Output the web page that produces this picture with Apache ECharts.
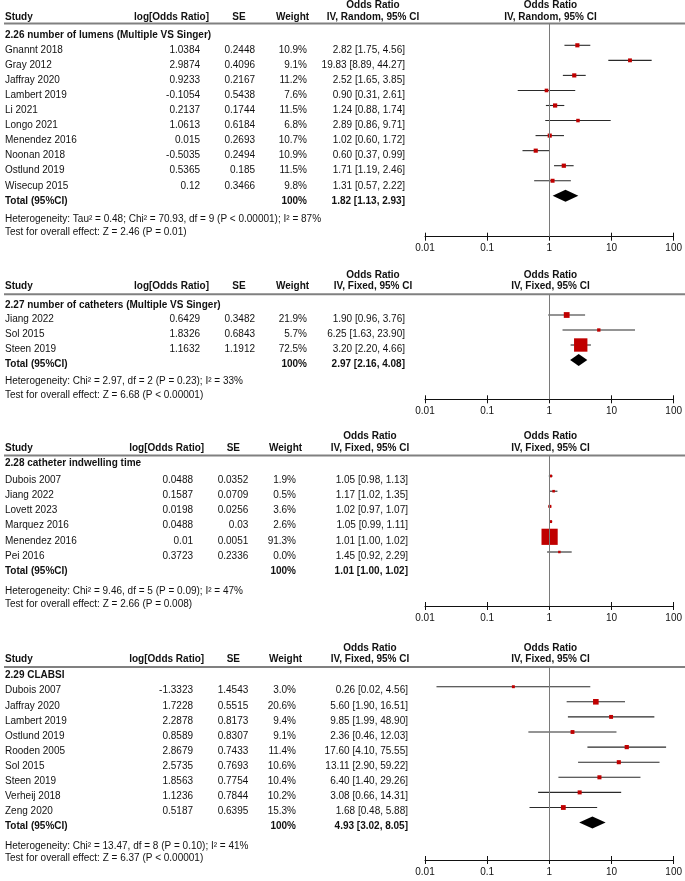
<!DOCTYPE html>
<html><head><meta charset="utf-8">
<script src="https://cdn.jsdelivr.net/npm/echarts@6/dist/echarts.min.js"></script>
<style>html,body{margin:0;padding:0;background:#fff}#chart{width:685px;height:881px}</style>
</head><body><div id="chart"></div>
<script>
// ---------------- DATA ----------------
const tickValues = [0.01, 0.1, 1, 10, 100];
const tickLabels = ['0.01', '0.1', '1', '10', '100'];
const colHeaders = ['Study', 'log[Odds Ratio]', 'SE', 'Weight', 'Odds Ratio'];
const totalLabel = 'Total (95%CI)';
const totalWeight = '100%';

const p1Title = '2.26 number of lumens (Multiple VS Singer)';
const p1Method = 'IV, Random, 95% CI';
const p1Studies = ['Gnannt 2018', 'Gray 2012', 'Jaffray 2020', 'Lambert 2019', 'Li 2021', 'Longo 2021', 'Menendez 2016', 'Noonan 2018', 'Ostlund 2019', 'Wisecup 2015'];
const p1LogOR = [1.0384, 2.9874, 0.9233, -0.1054, 0.2137, 1.0613, 0.015, -0.5035, 0.5365, 0.12];
const p1SE = [0.2448, 0.4096, 0.2167, 0.5438, 0.1744, 0.6184, 0.2693, 0.2494, 0.185, 0.3466];
const p1Weight = [10.9, 9.1, 11.2, 7.6, 11.5, 6.8, 10.7, 10.9, 11.5, 9.8];
const p1OR = [2.82, 19.83, 2.52, 0.90, 1.24, 2.89, 1.02, 0.60, 1.71, 1.31];
const p1Lower = [1.75, 8.89, 1.65, 0.31, 0.88, 0.86, 0.60, 0.37, 1.19, 0.57];
const p1Upper = [4.56, 44.27, 3.85, 2.61, 1.74, 9.71, 1.72, 0.99, 2.46, 2.22];
const p1Total = [1.82, 1.13, 2.93];
const p1Het = 'Heterogeneity: Tau² = 0.48; Chi² = 70.93, df = 9 (P < 0.00001); I² = 87%';
const p1Test = 'Test for overall effect: Z = 2.46 (P = 0.01)';

const p2Title = '2.27 number of catheters (Multiple VS Singer)';
const p2Method = 'IV, Fixed, 95% CI';
const p2Studies = ['Jiang 2022', 'Sol 2015', 'Steen 2019'];
const p2LogOR = [0.6429, 1.8326, 1.1632];
const p2SE = [0.3482, 0.6843, 1.1912];
const p2Weight = [21.9, 5.7, 72.5];
const p2OR = [1.90, 6.25, 3.20];
const p2Lower = [0.96, 1.63, 2.20];
const p2Upper = [3.76, 23.90, 4.66];
const p2Total = [2.97, 2.16, 4.08];
const p2Het = 'Heterogeneity: Chi² = 2.97, df = 2 (P = 0.23); I² = 33%';
const p2Test = 'Test for overall effect: Z = 6.68 (P < 0.00001)';

const p3Title = '2.28 catheter indwelling time';
const p3Method = 'IV, Fixed, 95% CI';
const p3Studies = ['Dubois 2007', 'Jiang 2022', 'Lovett 2023', 'Marquez 2016', 'Menendez 2016', 'Pei 2016'];
const p3LogOR = [0.0488, 0.1587, 0.0198, 0.0488, 0.01, 0.3723];
const p3SE = [0.0352, 0.0709, 0.0256, 0.03, 0.0051, 0.2336];
const p3Weight = [1.9, 0.5, 3.6, 2.6, 91.3, 0.0];
const p3OR = [1.05, 1.17, 1.02, 1.05, 1.01, 1.45];
const p3Lower = [0.98, 1.02, 0.97, 0.99, 1.00, 0.92];
const p3Upper = [1.13, 1.35, 1.07, 1.11, 1.02, 2.29];
const p3Total = [1.01, 1.00, 1.02];
const p3Het = 'Heterogeneity: Chi² = 9.46, df = 5 (P = 0.09); I² = 47%';
const p3Test = 'Test for overall effect: Z = 2.66 (P = 0.008)';

const p4Title = '2.29 CLABSI';
const p4Method = 'IV, Fixed, 95% CI';
const p4Studies = ['Dubois 2007', 'Jaffray 2020', 'Lambert 2019', 'Ostlund 2019', 'Rooden 2005', 'Sol 2015', 'Steen 2019', 'Verheij 2018', 'Zeng 2020'];
const p4LogOR = [-1.3323, 1.7228, 2.2878, 0.8589, 2.8679, 2.5735, 1.8563, 1.1236, 0.5187];
const p4SE = [1.4543, 0.5515, 0.8173, 0.8307, 0.7433, 0.7693, 0.7754, 0.7844, 0.6395];
const p4Weight = [3.0, 20.6, 9.4, 9.1, 11.4, 10.6, 10.4, 10.2, 15.3];
const p4OR = [0.26, 5.60, 9.85, 2.36, 17.60, 13.11, 6.40, 3.08, 1.68];
const p4Lower = [0.0153, 1.90, 1.99, 0.46, 4.10, 2.90, 1.40, 0.66, 0.48];
const p4Upper = [4.56, 16.51, 48.90, 12.03, 75.55, 59.22, 29.26, 14.31, 5.88];
const p4Total = [4.93, 3.02, 8.05];
const p4Het = 'Heterogeneity: Chi² = 13.47, df = 8 (P = 0.10); I² = 41%';
const p4Test = 'Test for overall effect: Z = 6.37 (P < 0.00001)';

const panels = [
  {title: p1Title, method: p1Method, studies: p1Studies, logOR: p1LogOR, se: p1SE, weight: p1Weight, or: p1OR, lo: p1Lower, hi: p1Upper, total: p1Total, het: p1Het, test: p1Test},
  {title: p2Title, method: p2Method, studies: p2Studies, logOR: p2LogOR, se: p2SE, weight: p2Weight, or: p2OR, lo: p2Lower, hi: p2Upper, total: p2Total, het: p2Het, test: p2Test},
  {title: p3Title, method: p3Method, studies: p3Studies, logOR: p3LogOR, se: p3SE, weight: p3Weight, or: p3OR, lo: p3Lower, hi: p3Upper, total: p3Total, het: p3Het, test: p3Test},
  {title: p4Title, method: p4Method, studies: p4Studies, logOR: p4LogOR, se: p4SE, weight: p4Weight, or: p4OR, lo: p4Lower, hi: p4Upper, total: p4Total, het: p4Het, test: p4Test}
];

// ---------------- LAYOUT ----------------
const colsA = {logX: 200, seX: 255, wtX: 307, orX: 405, logH: 171.5, seH: 239, wtH: 292.5, orH: 373};
const colsB = {logX: 193, seX: 248.3, wtX: 296, orX: 408, logH: 166.7, seH: 233.3, wtH: 285.5, orH: 370};
const layouts = [
  {hdr1: 5.5, hdr2: 17, rule: 23.5, title: 35.5, row0: 45.3, step: 15.05, txtOff: 5, het: 219.5, test: 232, axis: 236.7, cols: colsA},
  {hdr1: 275.5, hdr2: 286.5, rule: 294.3, title: 305, row0: 315, step: 15, txtOff: 4.5, het: 381.5, test: 395, axis: 399.3, cols: colsA},
  {hdr1: 436.5, hdr2: 448, rule: 455.5, title: 463.5, row0: 476, step: 15.2, txtOff: 4, het: 591, test: 604, axis: 606, cols: colsB},
  {hdr1: 648, hdr2: 659.3, rule: 667, title: 675, row0: 686.7, step: 15.1, txtOff: 4, het: 846, test: 858.3, axis: 860, cols: colsB}
];
const plotLeft = 425, plotRight = 676;
const FONT = '"Liberation Sans", Arial, Helvetica, sans-serif';
const TXT = '#111';

function fmt2(v) { return v.toFixed(2); }
function orText(o, l, h) { return fmt2(o) + ' [' + fmt2(l) + ', ' + fmt2(h) + ']'; }
function squareSize(w) { return 2.5 + 0.15 * w; }

const grids = [], xAxes = [], yAxes = [], series = [], gfx = [];

function txt(x, y, s, opt) {
  opt = opt || {};
  gfx.push({
    type: 'text', x: x, y: y, silent: true,
    style: {text: s, fill: TXT, fontSize: opt.size || 10, fontFamily: FONT,
      fontWeight: opt.bold ? 'bold' : 'normal', align: opt.align || 'left', verticalAlign: 'middle'}
  });
}

panels.forEach(function (p, pi) {
  const L = layouts[pi], C = L.cols;
  const n = p.studies.length;
  const h = L.axis - L.rule;
  const yMin = -(L.row0 - L.rule) / L.step;
  const yMax = yMin + h / L.step;
  const nullX = plotLeft + (plotRight - plotLeft) * 0.5;

  grids.push({left: plotLeft, top: L.rule, width: plotRight - plotLeft, height: h, containLabel: false});
  xAxes.push({
    type: 'log', logBase: 10, gridIndex: pi, position: 'bottom',
    min: tickValues[0], max: tickValues[tickValues.length - 1],
    axisLine: {show: true, onZero: false, lineStyle: {color: '#111', width: 1}},
    axisTick: {show: true, length: 4, lineStyle: {color: '#111', width: 1}},
    axisLabel: {show: true, fontSize: 10, color: TXT, fontFamily: FONT, margin: 7,
      formatter: function (v) { const k = tickValues.findIndex(t => Math.abs(Math.log10(t) - Math.log10(v)) < 1e-6); return k >= 0 ? tickLabels[k] : ''; }},
    splitLine: {show: false}
  });
  xAxes.push({
    type: 'log', logBase: 10, gridIndex: pi, position: 'top', offset: -h,
    min: tickValues[0], max: tickValues[tickValues.length - 1],
    axisLine: {show: false, onZero: false},
    axisTick: {show: true, length: 4, lineStyle: {color: '#111', width: 1}},
    axisLabel: {show: false}, splitLine: {show: false}
  });
  yAxes.push({type: 'value', gridIndex: pi, inverse: true, min: yMin, max: yMax, show: false, axisLine: {onZero: false}});

  const xi = pi * 2;
  // null line
  series.push({
    type: 'line', xAxisIndex: xi, yAxisIndex: pi, data: [], z: 1, silent: true,
    markLine: {silent: true, symbol: 'none', label: {show: false}, animation: false,
      lineStyle: {color: '#7a7a7a', width: 1, type: 'solid'}, data: [{xAxis: 1}]}
  });
  // CI lines
  series.push({
    type: 'custom', xAxisIndex: xi, yAxisIndex: pi, z: 2, silent: true, animation: false,
    encode: {x: [0, 1], y: 2},
    data: p.studies.map((s, i) => [p.lo[i], p.hi[i], i]),
    renderItem: function (params, api) {
      const a = api.coord([api.value(0), api.value(2)]);
      const b = api.coord([api.value(1), api.value(2)]);
      return {type: 'line', shape: {x1: a[0], y1: a[1], x2: b[0], y2: b[1]}, style: {stroke: '#2a2a2a', lineWidth: 1.1}};
    }
  });
  // squares
  series.push({
    type: 'scatter', xAxisIndex: xi, yAxisIndex: pi, z: 3, silent: true, animation: false,
    symbol: 'rect', symbolSize: function (v) { return squareSize(v[2]); },
    itemStyle: {color: '#c00000', opacity: 1},
    data: p.studies.map((s, i) => [Math.exp(p.logOR[i]), i, p.weight[i]])
  });
  // diamond
  series.push({
    type: 'custom', xAxisIndex: xi, yAxisIndex: pi, z: 4, silent: true, animation: false,
    encode: {x: [0, 1, 2], y: 3},
    data: [[p.total[0], p.total[1], p.total[2], n]],
    renderItem: function (params, api) {
      const c = api.coord([api.value(0), api.value(3)]);
      const l = api.coord([api.value(1), api.value(3)]);
      const r = api.coord([api.value(2), api.value(3)]);
      const hh = 6;
      return {type: 'polygon', shape: {points: [[l[0], c[1]], [c[0], c[1] - hh], [r[0], c[1]], [c[0], c[1] + hh]]}, style: {fill: '#000'}};
    }
  });

  // ---- table text ----
  txt(C.orH, L.hdr1, colHeaders[4], {bold: true, align: 'center'});
  txt(nullX, L.hdr1, colHeaders[4], {bold: true, align: 'center'});
  txt(5, L.hdr2, colHeaders[0], {bold: true});
  txt(C.logH, L.hdr2, colHeaders[1], {bold: true, align: 'center'});
  txt(C.seH, L.hdr2, colHeaders[2], {bold: true, align: 'center'});
  txt(C.wtH, L.hdr2, colHeaders[3], {bold: true, align: 'center'});
  txt(C.orH, L.hdr2, p.method, {bold: true, align: 'center'});
  txt(nullX, L.hdr2, p.method, {bold: true, align: 'center'});
  gfx.push({type: 'line', silent: true, shape: {x1: 4, y1: L.rule, x2: 685, y2: L.rule}, style: {stroke: '#808080', lineWidth: 2}});
  txt(5, L.title, p.title, {bold: true});
  p.studies.forEach(function (s, i) {
    const y = L.row0 + i * L.step + L.txtOff;
    txt(5, y, s);
    txt(C.logX, y, String(p.logOR[i]), {align: 'right'});
    txt(C.seX, y, String(p.se[i]), {align: 'right'});
    txt(C.wtX, y, p.weight[i].toFixed(1) + '%', {align: 'right'});
    txt(C.orX, y, orText(p.or[i], p.lo[i], p.hi[i]), {align: 'right'});
  });
  const ty = L.row0 + n * L.step + L.txtOff;
  txt(5, ty, totalLabel, {bold: true});
  txt(C.wtX, ty, totalWeight, {bold: true, align: 'right'});
  txt(C.orX, ty, orText(p.total[0], p.total[1], p.total[2]), {bold: true, align: 'right'});
  txt(5, L.het, p.het);
  txt(5, L.test, p.test);
});

const chart = echarts.init(document.getElementById('chart'), null, {renderer: 'canvas'});
chart.setOption({
  animation: false,
  backgroundColor: '#fff',
  grid: grids, xAxis: xAxes, yAxis: yAxes, series: series,
  graphic: {elements: gfx}
});
</script></body></html>
